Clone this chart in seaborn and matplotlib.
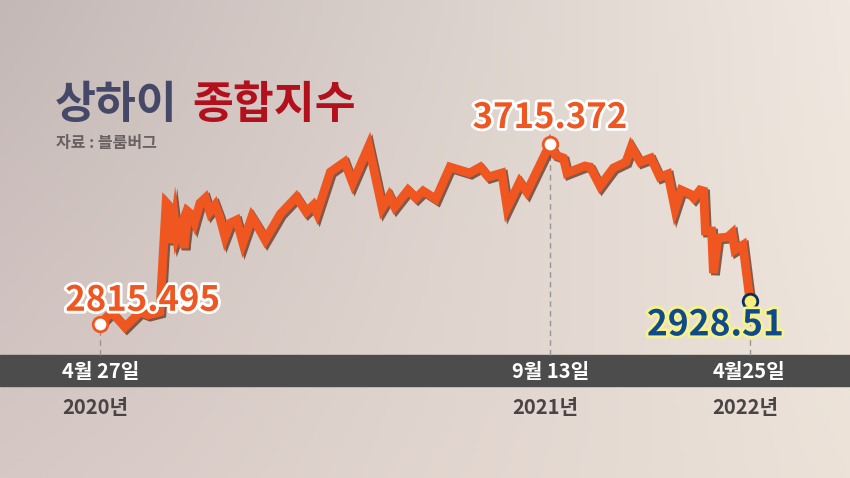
import matplotlib.pyplot as plt
import matplotlib.patheffects as pe
import seaborn as sns
import numpy as np
import pandas as pd

# 상하이 종합지수 (2020-04-27 ~ 2022-04-25), 그림에서 읽은 근사값
start_date = '2020-04-27'
day_offsets = [0, 13, 28, 45, 54, 67, 74, 78, 81, 84, 86, 92, 94, 99, 103, 106,
               112, 118, 123, 129, 134, 140, 146, 153, 160, 170, 177, 185, 202,
               220, 231, 239, 243, 258, 274, 283, 301, 316, 324, 330, 345, 354,
               362, 376, 392, 414, 426, 435, 450, 456, 470, 478, 504, 510, 519,
               523, 543, 549, 560, 575, 589, 595, 605, 617, 627, 636, 644, 651,
               661, 665, 672, 676, 678, 685, 687, 692, 703, 708, 711, 720, 728]
index_values = [2815.495, 2875, 2800, 2875, 2860, 2875, 3420, 3400, 3220, 3325,
                3250, 3320, 3195, 3375, 3360, 3325, 3420, 3445, 3375, 3410, 3350,
                3250, 3320, 3335, 3220, 3350, 3300, 3235, 3365, 3450, 3375, 3410,
                3370, 3575, 3625, 3520, 3705, 3395, 3455, 3400, 3485, 3445, 3480,
                3440, 3600, 3570, 3600, 3550, 3570, 3395, 3525, 3475, 3715.372,
                3660, 3645, 3570, 3605, 3600, 3505, 3595, 3625, 3700, 3625, 3645,
                3550, 3565, 3390, 3485, 3465, 3445, 3485, 3480, 3280, 3280, 3070,
                3245, 3250, 3270, 3185, 3210, 2928.51]

marked_idx = [0, 52, len(index_values) - 1]
date_labels = ['4월 27일', '9월 13일', '4월25일']
year_labels = ['2020년', '2021년', '2022년']

df = pd.DataFrame({
    'date': pd.to_datetime(start_date) + pd.to_timedelta(day_offsets, unit='D'),
    'value': index_values,
})

sns.set_theme(style='white')
plt.rcParams['font.family'] = ['Noto Sans CJK KR', 'DejaVu Sans']

fig = plt.figure(figsize=(8.5, 4.78), dpi=100)

# 배경 그라데이션
bg = fig.add_axes([0, 0, 1, 1])
bg.axis('off')
tl = np.array([196, 184, 182]) / 255
bl = np.array([214, 200, 197]) / 255
tr = np.array([240, 232, 224]) / 255
br = np.array([236, 226, 216]) / 255
u = np.linspace(0, 1, 200)[None, :, None]
v = np.linspace(0, 1, 120)[:, None, None]
grad = (1 - v) * ((1 - u) * tl + u * tr) + v * ((1 - u) * bl + u * br)
bg.imshow(grad, aspect='auto', extent=[0, 1, 0, 1])
bg.set_xlim(0, 1)
bg.set_ylim(0, 1)

# 하단 날짜 띠
bg.axhspan(1 - 386 / 478, 1 - 355 / 478, color='#4d4c4c', zorder=2)

ax = fig.add_axes([0, 0, 1, 1])
ax.set_facecolor('none')
t0 = pd.to_datetime(start_date)
ax.set_xlim(t0 - pd.Timedelta(days=112), t0 + pd.Timedelta(days=840))
ax.set_ylim(2045, 4435)
ax.axis('off')

sns.lineplot(data=df, x='date', y='value', ax=ax, color='#f0561f', linewidth=6.3,
             solid_joinstyle='miter', zorder=5,
             path_effects=[pe.SimpleLineShadow(offset=(1.5, -1.5), shadow_color='#6b3a28', alpha=0.8),
                           pe.Normal()])

band_top = 4435 - 5 * 355
for k, i in enumerate(marked_idx):
    d = df['date'].iloc[i]
    val = df['value'].iloc[i]
    ax.plot([d, d], [band_top, val], color='#9a9494', lw=1, ls=(0, (4, 3)), zorder=3)

mk = df.iloc[marked_idx]
ax.scatter(mk['date'].iloc[:2], mk['value'].iloc[:2], s=110, color='white',
           edgecolor='#f0561f', linewidth=2, zorder=7)
ax.scatter(mk['date'].iloc[2:], mk['value'].iloc[2:], s=110, color='#f7ef7a',
           edgecolor='#0c2f5c', linewidth=2, zorder=7)

# 수치 라벨
white_edge = [pe.withStroke(linewidth=4, foreground='white')]
ax.annotate('2815.495', (mk['date'].iloc[0], mk['value'].iloc[0]), xytext=(-25, 17),
            textcoords='offset points', fontsize=25, fontweight='bold', color='#ee5622',
            ha='left', va='center', path_effects=white_edge, zorder=8)
ax.annotate('3715.372', (mk['date'].iloc[1], mk['value'].iloc[1]), xytext=(0, 19),
            textcoords='offset points', fontsize=25, fontweight='bold', color='#ee5622',
            ha='center', va='center', path_effects=white_edge, zorder=8)
ax.annotate('2928.51', (mk['date'].iloc[2], mk['value'].iloc[2]), xytext=(-25, -17),
            textcoords='offset points', fontsize=25.5, fontweight='bold', color='#0f4a8a',
            ha='center', va='center',
            path_effects=[pe.withStroke(linewidth=4, foreground='#f8f28c')], zorder=8)

# 날짜 / 연도
for k, i in enumerate(marked_idx):
    d = df['date'].iloc[i]
    ax.text(d - pd.Timedelta(days=42), 4435 - 5 * 371, date_labels[k], fontsize=14.5,
            fontweight='bold', color='white', ha='left', va='center', zorder=8)
    ax.text(d - pd.Timedelta(days=42), 4435 - 5 * 407, year_labels[k], fontsize=14.5,
            fontweight='bold', color='#4a4444', ha='left', va='center', zorder=8)

# 제목
fig.text(55 / 850, 1 - 105 / 478, '상하이', fontsize=32, fontweight='heavy',
         color='#464868', ha='left', va='center')
fig.text(192 / 850, 1 - 105 / 478, '종합지수', fontsize=32, fontweight='heavy',
         color='#b2101c', ha='left', va='center')
fig.text(56 / 850, 1 - 143 / 478, '자료 : 블룸버그', fontsize=11.5, fontweight='bold',
         color='#6a6262', ha='left', va='center')

fig.savefig('out.png', dpi=100)
